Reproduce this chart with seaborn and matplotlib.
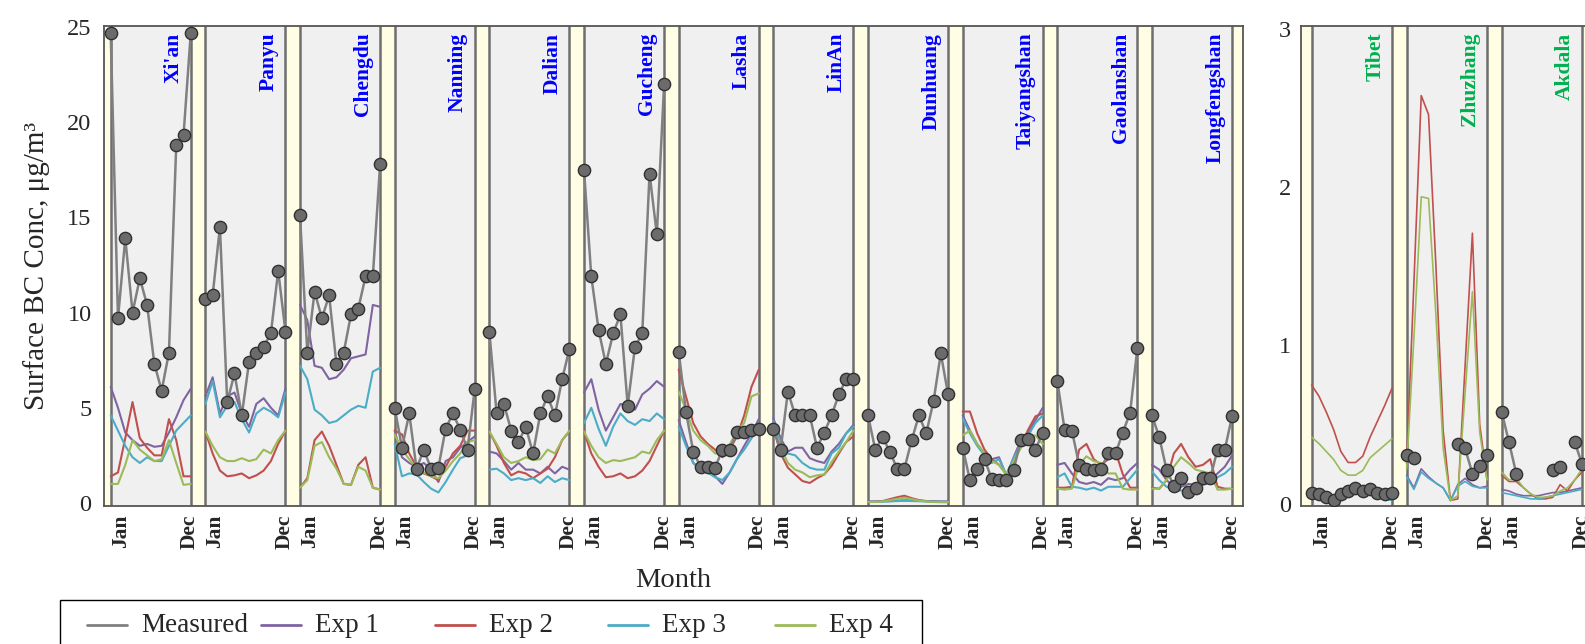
import numpy as np
import pandas as pd
import matplotlib
matplotlib.use("Agg")
import matplotlib.pyplot as plt
import matplotlib.transforms as mtransforms
from matplotlib.lines import Line2D
from matplotlib.patches import Rectangle
import seaborn as sns

nan = np.nan

# ---------------- data ----------------
SERIES = ["Measured", "Exp 1", "Exp 2", "Exp 3", "Exp 4"]
MONTH_LABELS = ["Jan", "Dec"]
LEFT_STATIONS = ["Xi'an", "Panyu", "Chengdu", "Nanning", "Dalian", "Gucheng",
                 "Lasha", "LinAn", "Dunhuang", "Taiyangshan", "Gaolanshan", "Longfengshan"]
RIGHT_STATIONS = ["Tibet", "Zhuzhang", "Akdala"]
LEFT_YTICKS = [0, 5, 10, 15, 20, 25]
RIGHT_YTICKS = [0, 1, 2, 3]

xian_meas = [24.7, 9.7, 13.9, 10.0, 11.8, 10.4, 7.3, 5.9, 7.9, 18.8, 19.3, 24.7]
xian_exp1 = [6.1, 5.0, 3.7, 3.3, 3.0, 3.1, 2.95, 3.0, 3.7, 4.5, 5.4, 6.0]
xian_exp2 = [1.4, 1.6, 3.4, 5.3, 3.4, 2.9, 2.5, 2.5, 4.4, 3.3, 1.4, 1.4]
xian_exp3 = [4.6, 3.8, 3.0, 2.4, 2.1, 2.4, 2.2, 2.2, 3.0, 3.8, 4.2, 4.6]
xian_exp4 = [1.0, 1.0, 2.0, 3.3, 2.8, 2.5, 2.2, 2.3, 3.3, 2.1, 0.95, 1.0]

panyu_meas = [10.7, 10.9, 14.5, 5.3, 6.8, 4.6, 7.4, 7.9, 8.2, 8.9, 12.2, 9.0]
panyu_exp1 = [5.6, 6.6, 4.7, 5.6, 5.8, 4.7, 4.0, 5.2, 5.5, 5.0, 4.6, 6.0]
panyu_exp2 = [3.75, 2.6, 1.7, 1.4, 1.45, 1.55, 1.3, 1.45, 1.7, 2.2, 3.1, 3.8]
panyu_exp3 = [5.2, 6.4, 4.5, 5.1, 5.3, 4.4, 3.7, 4.7, 5.0, 4.8, 4.5, 5.8]
panyu_exp4 = [3.75, 3.0, 2.4, 2.2, 2.2, 2.35, 2.2, 2.3, 2.8, 2.6, 3.3, 3.8]

chengdu_meas = [15.1, 7.9, 11.1, 9.7, 10.9, 7.3, 7.9, 9.9, 10.2, 11.9, 11.9, 17.8]
chengdu_exp1 = [10.4, 9.6, 7.2, 7.1, 6.5, 6.6, 7.0, 7.6, 7.7, 7.8, 10.4, 10.3]
chengdu_exp2 = [0.8, 1.3, 3.3, 3.75, 3.0, 2.0, 1.0, 0.95, 2.0, 2.4, 0.8, 0.7]
chengdu_exp3 = [7.2, 6.5, 4.9, 4.6, 4.2, 4.3, 4.6, 4.9, 5.1, 5.0, 6.9, 7.1]
chengdu_exp4 = [0.8, 1.2, 3.0, 3.2, 2.4, 1.8, 1.0, 0.95, 1.9, 1.7, 0.8, 0.7]

nanning_meas = [5.0, 2.9, 4.7, 1.8, 2.8, 1.8, 1.85, 3.9, 4.7, 3.85, 2.8, 6.0]
nanning_exp1 = [3.8, 2.4, 2.1, 1.9, 2.1, 1.75, 1.1, 2.2, 2.4, 2.9, 3.2, 3.5]
nanning_exp2 = [3.8, 3.6, 2.6, 1.9, 1.55, 1.4, 1.2, 1.9, 2.6, 3.0, 3.8, 3.8]
nanning_exp3 = [3.1, 1.4, 1.55, 1.5, 1.1, 0.75, 0.55, 1.1, 1.75, 2.35, 2.5, 2.8]
nanning_exp4 = [3.6, 2.8, 2.3, 1.8, 1.6, 1.4, 1.3, 1.7, 2.2, 2.6, 3.2, 3.3]

dalian_meas = [9.0, 4.7, 5.2, 3.8, 3.2, 4.0, 2.6, 4.7, 5.6, 4.6, 6.5, 8.1]
dalian_exp1 = [2.7, 2.6, 2.2, 1.75, 2.1, 1.75, 1.75, 1.55, 1.9, 1.55, 1.9, 1.75]
dalian_exp2 = [3.75, 3.0, 2.1, 1.45, 1.65, 1.55, 1.3, 1.55, 1.8, 2.4, 3.3, 3.75]
dalian_exp3 = [1.75, 1.8, 1.55, 1.2, 1.3, 1.2, 1.3, 1.05, 1.4, 1.1, 1.3, 1.2]
dalian_exp4 = [3.75, 3.1, 2.4, 2.1, 2.2, 2.4, 2.25, 2.3, 2.8, 2.6, 3.3, 3.8]

gucheng_meas = [17.5, 11.9, 9.1, 7.3, 8.9, 9.9, 5.1, 8.2, 8.9, 17.3, 14.1, 22.0]
gucheng_exp1 = [5.8, 6.5, 4.9, 3.8, 4.5, 5.2, 5.1, 4.9, 5.7, 6.0, 6.4, 6.1]
gucheng_exp2 = [3.75, 2.6, 1.9, 1.35, 1.4, 1.55, 1.3, 1.4, 1.7, 2.2, 3.0, 3.8]
gucheng_exp3 = [4.2, 5.0, 3.9, 3.0, 4.0, 4.7, 4.3, 4.1, 4.4, 4.3, 4.7, 4.4]
gucheng_exp4 = [3.75, 3.0, 2.4, 2.1, 2.25, 2.2, 2.3, 2.4, 2.7, 2.6, 3.3, 3.8]

lasha_meas = [7.95, 4.8, 2.7, 1.9, 1.9, 1.85, 2.8, 2.8, 3.75, 3.75, 3.85, 3.9]
lasha_exp1 = [4.35, 3.2, 2.1, 1.75, 1.6, 1.4, 1.0, 1.6, 2.3, 3.0, 3.65, 4.4]
lasha_exp2 = [7.0, 5.6, 4.2, 3.5, 3.1, 2.8, 2.4, 2.8, 3.5, 4.6, 6.1, 7.0]
lasha_exp3 = [4.0, 3.0, 2.1, 1.85, 1.6, 1.35, 1.2, 1.6, 2.3, 2.8, 3.4, 4.0]
lasha_exp4 = [5.85, 4.9, 3.8, 3.3, 3.0, 2.6, 2.6, 3.05, 3.8, 4.2, 5.6, 5.75]

linan_meas = [3.9, 2.8, 5.85, 4.6, 4.6, 4.6, 2.9, 3.7, 4.6, 5.7, 6.5, 6.5]
linan_exp1 = [4.45, 3.4, 2.7, 2.9, 2.9, 2.35, 2.2, 2.1, 2.7, 3.1, 3.65, 4.1]
linan_exp2 = [3.95, 2.6, 1.85, 1.5, 1.15, 1.05, 1.3, 1.5, 1.95, 2.6, 3.2, 3.5]
linan_exp3 = [4.3, 3.1, 2.6, 2.5, 2.1, 1.85, 1.75, 1.75, 2.6, 2.9, 3.65, 4.0]
linan_exp4 = [4.0, 2.9, 2.1, 1.75, 1.6, 1.35, 1.45, 1.5, 2.15, 2.7, 3.2, 3.8]

dunhuang_meas = [4.6, 2.8, 3.45, 2.7, 1.8, 1.8, 3.3, 4.6, 3.65, 5.35, 7.85, 5.7]
dunhuang_exp1 = [0.08, 0.08, 0.09, 0.10, 0.12, 0.14, 0.13, 0.11, 0.10, 0.09, 0.08, 0.08]
dunhuang_exp2 = [0.05, 0.06, 0.10, 0.20, 0.30, 0.38, 0.25, 0.15, 0.10, 0.06, 0.05, 0.05]
dunhuang_exp3 = [0.06, 0.06, 0.07, 0.08, 0.10, 0.11, 0.10, 0.09, 0.08, 0.07, 0.06, 0.06]
dunhuang_exp4 = [0.05, 0.05, 0.08, 0.15, 0.22, 0.28, 0.20, 0.12, 0.08, 0.05, 0.04, 0.04]

taiyangshan_meas = [2.9, 1.2, 1.8, 2.3, 1.25, 1.2, 1.2, 1.75, 3.3, 3.35, 2.8, 3.7]
taiyangshan_exp1 = [4.6, 3.8, 3.1, 2.6, 2.3, 2.4, 1.4, 2.4, 3.3, 3.65, 4.35, 5.0]
taiyangshan_exp2 = [4.8, 4.8, 3.65, 2.8, 2.3, 2.0, 1.5, 2.1, 3.0, 3.85, 4.55, 4.7]
taiyangshan_exp3 = [4.45, 3.65, 3.0, 2.5, 2.1, 2.3, 1.5, 2.35, 3.1, 3.55, 4.2, 4.6]
taiyangshan_exp4 = [3.55, 3.8, 3.1, 2.6, 2.2, 2.0, 1.5, 2.2, 2.9, 3.45, 3.55, 3.1]

gaolanshan_meas = [6.4, 3.85, 3.8, 2.0, 1.8, 1.75, 1.8, 2.6, 2.6, 3.7, 4.75, 8.15]
gaolanshan_exp1 = [2.0, 2.1, 1.55, 1.1, 1.0, 1.1, 0.95, 1.3, 1.2, 1.3, 1.75, 2.1]
gaolanshan_exp2 = [0.8, 0.8, 0.85, 2.8, 3.1, 2.3, 2.0, 2.3, 2.7, 1.5, 0.8, 0.8]
gaolanshan_exp3 = [1.35, 1.55, 0.85, 0.8, 0.7, 0.8, 0.65, 0.85, 0.85, 0.85, 1.3, 1.75]
gaolanshan_exp4 = [0.75, 0.7, 0.75, 2.0, 2.45, 2.2, 2.1, 1.55, 1.55, 0.75, 0.7, 0.7]

longfengshan_meas = [4.6, 3.45, 1.75, 0.9, 1.3, 0.6, 0.8, 1.3, 1.3, 2.8, 2.8, 4.55]
longfengshan_exp1 = [2.0, 1.75, 1.2, 0.85, 0.85, 1.0, 0.95, 1.1, 1.2, 1.55, 1.9, 2.5]
longfengshan_exp2 = [0.8, 0.75, 1.2, 2.6, 3.1, 2.4, 1.9, 2.0, 2.3, 0.85, 0.75, 0.75]
longfengshan_exp3 = [1.65, 1.2, 0.85, 0.7, 0.65, 0.7, 0.85, 0.95, 1.1, 1.35, 1.55, 1.9]
longfengshan_exp4 = [0.75, 0.75, 1.2, 1.9, 2.4, 2.1, 1.75, 1.65, 1.55, 0.7, 0.7, 0.75]

tibet_meas = [0.07, 0.06, 0.04, 0.02, 0.06, 0.08, 0.10, 0.08, 0.09, 0.07, 0.06, 0.07]
tibet_exp1 = [0.04, 0.03, 0.02, 0.03, 0.05, 0.07, 0.09, 0.10, 0.08, 0.05, 0.04, 0.03]
tibet_exp2 = [0.75, 0.68, 0.58, 0.47, 0.33, 0.26, 0.26, 0.30, 0.42, 0.52, 0.62, 0.73]
tibet_exp3 = [0.03, 0.03, 0.02, 0.02, 0.04, 0.05, 0.07, 0.08, 0.07, 0.05, 0.03, 0.02]
tibet_exp4 = [0.42, 0.38, 0.33, 0.28, 0.21, 0.18, 0.18, 0.21, 0.29, 0.33, 0.37, 0.41]

zhuzhang_meas = [0.31, 0.29, nan, nan, nan, nan, nan, 0.38, 0.35, 0.19, 0.24, 0.31]
zhuzhang_exp1 = [0.18, 0.10, 0.22, 0.17, 0.13, 0.10, 0.02, 0.12, 0.16, 0.12, 0.10, 0.11]
zhuzhang_exp2 = [0.25, 1.40, 2.58, 2.46, 1.51, 0.46, 0.02, 0.03, 0.87, 1.71, 0.50, 0.15]
zhuzhang_exp3 = [0.17, 0.09, 0.20, 0.16, 0.13, 0.10, 0.02, 0.11, 0.14, 0.11, 0.10, 0.10]
zhuzhang_exp4 = [0.22, 1.05, 1.94, 1.93, 1.20, 0.35, 0.02, 0.05, 0.70, 1.34, 0.45, 0.15]

akdala_meas = [0.58, 0.39, 0.19, nan, nan, nan, nan, 0.21, 0.23, nan, 0.39, 0.25]
akdala_exp1 = [0.09, 0.08, 0.06, 0.05, 0.05, 0.05, 0.06, 0.07, 0.07, 0.08, 0.09, 0.10]
akdala_exp2 = [0.18, 0.14, 0.14, 0.10, 0.06, 0.03, 0.03, 0.04, 0.12, 0.08, 0.15, 0.20]
akdala_exp3 = [0.07, 0.06, 0.05, 0.04, 0.03, 0.03, 0.04, 0.05, 0.06, 0.07, 0.08, 0.09]
akdala_exp4 = [0.20, 0.15, 0.16, 0.10, 0.06, 0.04, 0.04, 0.05, 0.08, 0.10, 0.15, 0.22]

LEFT_DATA = [
    [xian_meas, xian_exp1, xian_exp2, xian_exp3, xian_exp4],
    [panyu_meas, panyu_exp1, panyu_exp2, panyu_exp3, panyu_exp4],
    [chengdu_meas, chengdu_exp1, chengdu_exp2, chengdu_exp3, chengdu_exp4],
    [nanning_meas, nanning_exp1, nanning_exp2, nanning_exp3, nanning_exp4],
    [dalian_meas, dalian_exp1, dalian_exp2, dalian_exp3, dalian_exp4],
    [gucheng_meas, gucheng_exp1, gucheng_exp2, gucheng_exp3, gucheng_exp4],
    [lasha_meas, lasha_exp1, lasha_exp2, lasha_exp3, lasha_exp4],
    [linan_meas, linan_exp1, linan_exp2, linan_exp3, linan_exp4],
    [dunhuang_meas, dunhuang_exp1, dunhuang_exp2, dunhuang_exp3, dunhuang_exp4],
    [taiyangshan_meas, taiyangshan_exp1, taiyangshan_exp2, taiyangshan_exp3, taiyangshan_exp4],
    [gaolanshan_meas, gaolanshan_exp1, gaolanshan_exp2, gaolanshan_exp3, gaolanshan_exp4],
    [longfengshan_meas, longfengshan_exp1, longfengshan_exp2, longfengshan_exp3, longfengshan_exp4],
]
RIGHT_DATA = [
    [tibet_meas, tibet_exp1, tibet_exp2, tibet_exp3, tibet_exp4],
    [zhuzhang_meas, zhuzhang_exp1, zhuzhang_exp2, zhuzhang_exp3, zhuzhang_exp4],
    [akdala_meas, akdala_exp1, akdala_exp2, akdala_exp3, akdala_exp4],
]

# ---------------- style ----------------
PERIOD = 13  # 12 months + gap
PALETTE = {"Exp 1": "#8064A2", "Exp 2": "#C0504D", "Exp 3": "#4BACC6", "Exp 4": "#9BBB59"}
EXPS = ["Exp 1", "Exp 2", "Exp 3", "Exp 4"]
MEAS_LINE = "#808080"
GRAY_BG = "#F0F0F0"
YELLOW_BG = "#FFFDE4"
BORDER = "#6E6E6E"
SPINE = "#555555"

sns.set_style("white")
plt.rcParams["font.family"] = ["Liberation Serif", "DejaVu Serif"]


def build_frame(data):
    rows = []
    for i, series_lists in enumerate(data):
        for s, vals in zip(SERIES, series_lists):
            run, prev_nan = 0, True
            for m, v in enumerate(vals):
                if v is None or np.isnan(v):
                    prev_nan = True
                    continue
                if prev_nan:
                    run += 1
                    prev_nan = False
                rows.append({"x": PERIOD * i + m, "value": v, "series": s,
                             "run": f"{i}-{s}-{run}"})
    return pd.DataFrame(rows)


def draw_panel(ax, data, names, label_color, yticks, ylim, xlim, lw_model):
    n = len(data)
    ax.set_facecolor(YELLOW_BG)
    for i in range(n):
        x0 = PERIOD * i
        ax.axvspan(x0, x0 + 11, color=GRAY_BG, zorder=0, lw=0)
        ax.axvline(x0, color=BORDER, lw=1.8, zorder=1)
        ax.axvline(x0 + 11, color=BORDER, lw=1.8, zorder=1)
    df = build_frame(data)
    models = df[df["series"] != "Measured"]
    meas = df[df["series"] == "Measured"]
    sns.lineplot(data=models, x="x", y="value", hue="series", hue_order=EXPS,
                 palette=PALETTE, units="run", estimator=None, lw=lw_model,
                 legend=False, ax=ax, zorder=3)
    sns.lineplot(data=meas, x="x", y="value", units="run", estimator=None,
                 color=MEAS_LINE, lw=1.8, legend=False, ax=ax, zorder=4)
    sns.scatterplot(data=meas, x="x", y="value", color="#6B6B6B", edgecolor="#303030",
                    linewidth=1.0, s=78, legend=False, ax=ax, zorder=5)
    trans = mtransforms.blended_transform_factory(ax.transData, ax.transAxes)
    for i, name in enumerate(names):
        ax.text(PERIOD * i + 8.7, 0.986, name, transform=trans, rotation=90,
                ha="center", va="top", color=label_color, fontsize=15.5,
                fontweight="bold", zorder=6)
    ax.set_xlim(*xlim)
    ax.set_ylim(*ylim)
    ax.set_yticks(yticks)
    ax.set_yticklabels([str(t) for t in yticks], fontsize=17.5)
    ticks, labels = [], []
    for i in range(n):
        ticks += [PERIOD * i + 1.4, PERIOD * i + 10.9]
        labels += MONTH_LABELS
    ax.set_xticks(ticks)
    ax.set_xticklabels(labels, rotation=90, fontsize=15.5, fontweight="bold")
    ax.tick_params(axis="both", length=0)
    ax.tick_params(axis="x", pad=6)
    ax.tick_params(axis="y", pad=9)
    for sp in ax.spines.values():
        sp.set_color(SPINE)
        sp.set_linewidth(1.3)
    ax.set_xlabel("")
    ax.set_ylabel("")


W, H = 1585, 644
fig = plt.figure(figsize=(W / 100, H / 100), dpi=100)
ax_l = fig.add_axes([104 / W, (H - 506) / H, 1139 / W, 480 / H])
ax_r = fig.add_axes([1301 / W, (H - 506) / H, 292 / W, 480 / H])

draw_panel(ax_l, LEFT_DATA, LEFT_STATIONS, "#0000FF", LEFT_YTICKS,
           (-0.16, 25.05), (-0.92, 155.5), 1.5)
draw_panel(ax_r, RIGHT_DATA, RIGHT_STATIONS, "#00B050", RIGHT_YTICKS,
           (-0.015, 3.02), (-1.45, 38.5), 1.2)
ax_r.tick_params(axis="y", pad=7)

ax_l.set_ylabel("Surface BC Conc, \u03bcg/m\u00b3", fontsize=21, labelpad=12)
ax_l.set_xlabel("Month", fontsize=20.5, labelpad=14)

# legend: framed row of entries on a fixed grid, as in the reference
fig.add_artist(Rectangle((60 / W, -0.05), (922 - 60) / W, 0.05 + (H - 600) / H,
                         transform=fig.transFigure, fill=False, ec="black", lw=1.0))
LEG_Y = 1 - 625 / H
LEG_TEXT_X = [141, 315, 489, 662, 829]
leg_colors = [MEAS_LINE] + [PALETTE[e] for e in EXPS]
for tx, lab, col in zip(LEG_TEXT_X, SERIES, leg_colors):
    fig.add_artist(Line2D([(tx - 54) / W, (tx - 14) / W], [LEG_Y, LEG_Y], color=col,
                          lw=2.0, transform=fig.transFigure))
    fig.text(tx / W, LEG_Y, lab, ha="left", va="center", fontsize=19.5)

fig.savefig("out.png", dpi=100)
